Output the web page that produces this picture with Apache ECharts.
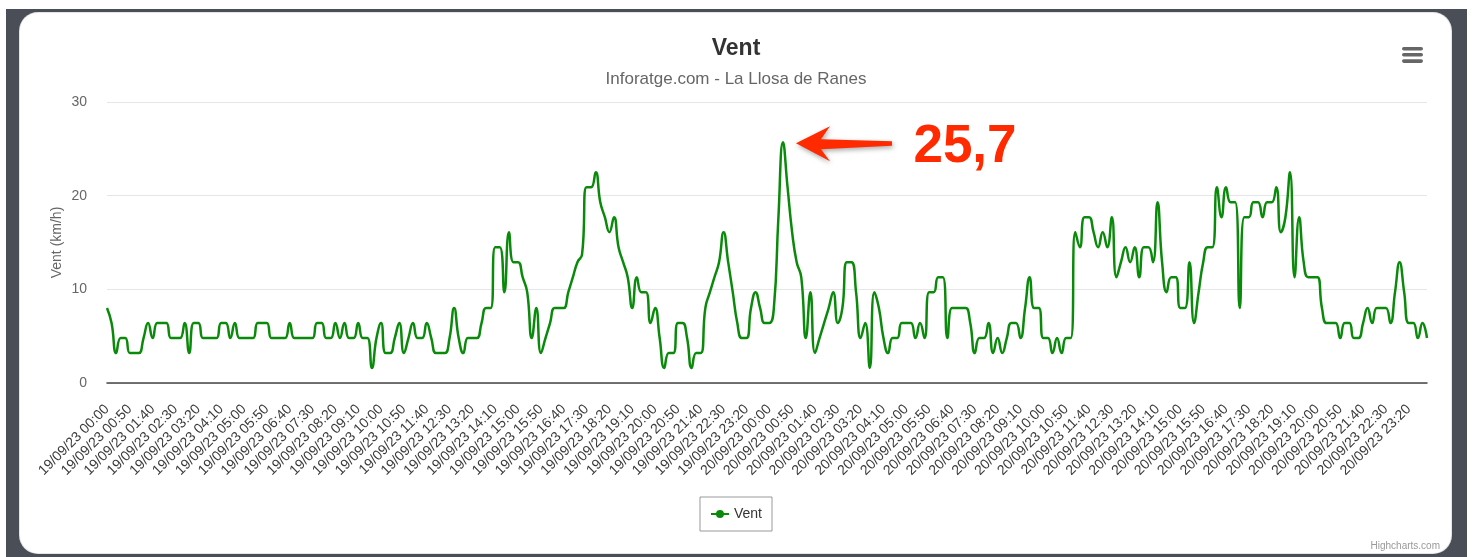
<!DOCTYPE html>
<html>
<head>
<meta charset="utf-8">
<script src="https://cdn.jsdelivr.net/npm/echarts/dist/echarts.min.js"></script>
<style>
html,body{margin:0;padding:0;background:#fff;width:1472px;height:557px;overflow:hidden;}
#frame{position:absolute;left:6px;top:9px;width:1461px;height:560px;background:#4a4e57;}
#card{position:absolute;left:20px;top:13px;width:1431px;height:540px;background:#fff;border-radius:18px;box-shadow:0 0 0 1px #e4e4e4;}
#chart{position:absolute;left:0;top:0;width:1472px;height:557px;}
</style>
</head>
<body>
<div id="frame"></div>
<div id="card"></div>
<div id="chart"></div>
<script>
const titleText = 'Vent';
const subtitleText = 'Inforatge.com - La Llosa de Ranes';
const yAxisTitle = 'Vent (km/h)';
const seriesName = 'Vent';
const creditText = 'Highcharts.com';

const tickLabels = [
  '19/09/23 00:00','19/09/23 00:50','19/09/23 01:40','19/09/23 02:30','19/09/23 03:20','19/09/23 04:10',
  '19/09/23 05:00','19/09/23 05:50','19/09/23 06:40','19/09/23 07:30','19/09/23 08:20','19/09/23 09:10',
  '19/09/23 10:00','19/09/23 10:50','19/09/23 11:40','19/09/23 12:30','19/09/23 13:20','19/09/23 14:10',
  '19/09/23 15:00','19/09/23 15:50','19/09/23 16:40','19/09/23 17:30','19/09/23 18:20','19/09/23 19:10',
  '19/09/23 20:00','19/09/23 20:50','19/09/23 21:40','19/09/23 22:30','19/09/23 23:20',
  '20/09/23 00:00','20/09/23 00:50','20/09/23 01:40','20/09/23 02:30','20/09/23 03:20','20/09/23 04:10',
  '20/09/23 05:00','20/09/23 05:50','20/09/23 06:40','20/09/23 07:30','20/09/23 08:20','20/09/23 09:10',
  '20/09/23 10:00','20/09/23 10:50','20/09/23 11:40','20/09/23 12:30','20/09/23 13:20','20/09/23 14:10',
  '20/09/23 15:00','20/09/23 15:50','20/09/23 16:40','20/09/23 17:30','20/09/23 18:20','20/09/23 19:10',
  '20/09/23 20:00','20/09/23 20:50','20/09/23 21:40','20/09/23 22:30','20/09/23 23:20'
];

// wind speed (km/h), one value every 10 minutes
const windValues = [
  8.0,6.4,3.2,4.8,4.8,3.2,3.2,3.2,4.8,6.4,
  4.8,6.4,6.4,6.4,4.8,4.8,4.8,6.4,3.2,6.4,
  6.4,4.8,4.8,4.8,4.8,6.4,6.4,4.8,6.4,4.8,
  4.8,4.8,4.8,6.4,6.4,6.4,4.8,4.8,4.8,4.8,
  6.4,4.8,4.8,4.8,4.8,4.8,6.4,6.4,4.8,4.8,
  6.4,4.8,6.4,4.8,4.8,6.4,4.8,4.8,1.6,4.8,
  6.4,3.2,3.2,4.8,6.4,3.2,4.8,6.4,4.8,4.8,
  6.4,4.8,3.2,3.2,3.2,4.8,8.0,4.8,3.2,4.8,
  4.8,4.8,6.4,8.0,8.0,14.5,14.5,9.7,16.1,12.9,
  12.9,11.3,9.7,4.8,8.0,3.2,4.8,6.4,8.0,8.0,
  8.0,9.7,11.3,12.9,13.7,20.9,20.9,22.5,19.3,17.7,
  16.1,17.7,14.5,12.9,11.3,8.0,11.3,9.7,9.7,6.4,
  8.0,4.8,1.6,3.2,3.2,6.4,6.4,4.8,1.6,3.2,
  3.2,8.0,9.7,11.3,12.9,16.1,12.9,9.7,6.4,4.8,
  4.8,8.0,9.7,8.0,6.4,6.4,8.0,17.7,25.7,20.9,
  16.1,12.9,11.3,4.8,9.7,3.2,4.8,6.4,8.0,9.7,
  6.4,8.0,12.9,12.9,9.7,4.8,6.4,1.6,9.7,8.0,
  4.8,3.2,4.8,4.8,6.4,6.4,6.4,4.8,6.4,4.8,
  9.7,9.7,11.3,11.3,4.8,8.0,8.0,8.0,8.0,6.4,
  3.2,4.8,4.8,6.4,3.2,4.8,3.2,4.8,6.4,6.4,
  4.8,8.0,11.3,8.0,8.0,4.8,4.8,3.2,4.8,3.2,
  4.8,4.8,16.1,14.5,17.7,17.7,16.1,14.5,16.1,14.5,
  17.7,11.3,12.9,14.5,12.9,14.5,11.3,14.5,14.5,12.9,
  19.3,12.9,9.7,11.3,11.3,8.0,8.0,12.9,6.4,9.7,
  12.9,14.5,14.5,20.9,17.7,20.9,19.3,19.3,8.0,17.7,
  17.7,19.3,19.3,17.7,19.3,19.3,20.9,16.1,17.7,22.5,
  11.3,17.7,12.9,11.3,11.3,11.3,8.0,6.4,6.4,6.4,
  4.8,6.4,6.4,4.8,4.8,6.4,8.0,6.4,8.0,8.0,
  8.0,6.4,9.7,12.9,9.7,6.4,6.4,4.8,6.4,4.8
];

// one category per 10-minute reading; a tick label every 5 readings
const categories = [];
tickLabels.forEach(function (t) {
  const parts = t.split(' ');
  const hm = parts[1].split(':').map(Number);
  for (let r = 0; r < 5; r++) {
    const tm = hm[0] * 60 + hm[1] + r * 10;
    categories.push(parts[0] + ' ' + String(Math.floor(tm / 60)).padStart(2, '0') + ':' + String(tm % 60).padStart(2, '0'));
  }
});

const FONT = '"Liberation Sans", Arial, Helvetica, sans-serif';
const LINE_COLOR = '#0a8a0a';

const chart = echarts.init(document.getElementById('chart'), null, {renderer: 'canvas'});
chart.setOption({
  animation: false,
  backgroundColor: 'transparent',
  textStyle: {fontFamily: FONT},
  title: [
    {text: titleText, left: 'center', top: 37, padding: 0,
     textStyle: {fontSize: 23, fontWeight: 'bold', color: '#333', fontFamily: FONT}},
    {text: subtitleText, left: 'center', top: 71, padding: 0,
     textStyle: {fontSize: 17, fontWeight: 'normal', color: '#666', fontFamily: FONT}}
  ],
  legend: {
    data: [seriesName], left: 'center', top: 497, padding: [10, 10],
    borderColor: '#999', borderWidth: 1, borderRadius: 0,
    itemWidth: 18, itemHeight: 10, itemGap: 5,
    textStyle: {fontSize: 14, color: '#333', fontFamily: FONT}
  },
  grid: {left: 107, right: 45, top: 102, bottom: 174, containLabel: false},
  xAxis: {
    type: 'category', data: categories, boundaryGap: false,
    axisLine: {lineStyle: {color: '#444', width: 1.5}},
    axisTick: {show: false},
    axisLabel: {interval: 4, rotate: 45, fontSize: 14, color: '#3a3a3a', margin: 24, fontFamily: FONT},
    splitLine: {show: false}
  },
  yAxis: {
    type: 'value', min: 0, max: 30, interval: 10,
    name: yAxisTitle, nameLocation: 'middle', nameGap: 43, nameRotate: 90, nameMoveOverlap: false,
    nameTextStyle: {fontSize: 14, color: '#666', fontFamily: FONT},
    axisLabel: {fontSize: 14, color: '#666', margin: 20, fontFamily: FONT},
    splitLine: {lineStyle: {color: '#e6e6e6', width: 1}},
    axisLine: {show: false}, axisTick: {show: false}
  },
  series: [{
    name: seriesName, type: 'line', data: windValues, smooth: 0.5,
    showSymbol: false, symbol: 'circle', symbolSize: 8,
    lineStyle: {color: LINE_COLOR, width: 2.5},
    itemStyle: {color: LINE_COLOR}
  }]
});

// annotation anchored on the maximum value
const peakVal = Math.max.apply(null, windValues);
const peakIdx = windValues.indexOf(peakVal);
const p = chart.convertToPixel({gridIndex: 0}, [peakIdx, peakVal]);
const tx = p[0] + 13, ty = p[1] + 1;
const peakLabel = String(peakVal).replace('.', ',');
const shadow = {shadowBlur: 5, shadowColor: 'rgba(0,0,0,0.35)', shadowOffsetX: 1, shadowOffsetY: 2};

chart.setOption({
  graphic: [
    {type: 'rect', shape: {x: 1402, y: 47, width: 21, height: 3.6, r: 1.8}, style: {fill: '#666'}, z: 10},
    {type: 'rect', shape: {x: 1402, y: 53, width: 21, height: 3.6, r: 1.8}, style: {fill: '#666'}, z: 10},
    {type: 'rect', shape: {x: 1402, y: 59.3, width: 21, height: 3.6, r: 1.8}, style: {fill: '#666'}, z: 10},
    {type: 'text', z: 10, style: {text: creditText, x: 1440, y: 546, align: 'right', verticalAlign: 'middle',
      font: '10px ' + FONT, fill: '#999'}},
    {type: 'polygon', z: 20, shape: {points: [
      [tx, ty], [tx + 34, ty - 17], [tx + 25, ty - 4], [tx + 96, ty - 2],
      [tx + 96, ty + 2.5], [tx + 25, ty + 6], [tx + 34, ty + 18]
    ]}, style: Object.assign({fill: '#ff2a00'}, shadow)},
    {type: 'text', z: 20, style: Object.assign({text: peakLabel, x: p[0] + 182, y: p[1] + 5,
      align: 'center', verticalAlign: 'middle', font: 'bold 53px ' + FONT,
      fill: '#fff', stroke: '#fff', lineWidth: 8}, shadow)},
    {type: 'text', z: 21, style: {text: peakLabel, x: p[0] + 182, y: p[1] + 5,
      align: 'center', verticalAlign: 'middle', font: 'bold 53px ' + FONT, fill: '#ff2a00'}}
  ]
});
</script>
</body>
</html>
